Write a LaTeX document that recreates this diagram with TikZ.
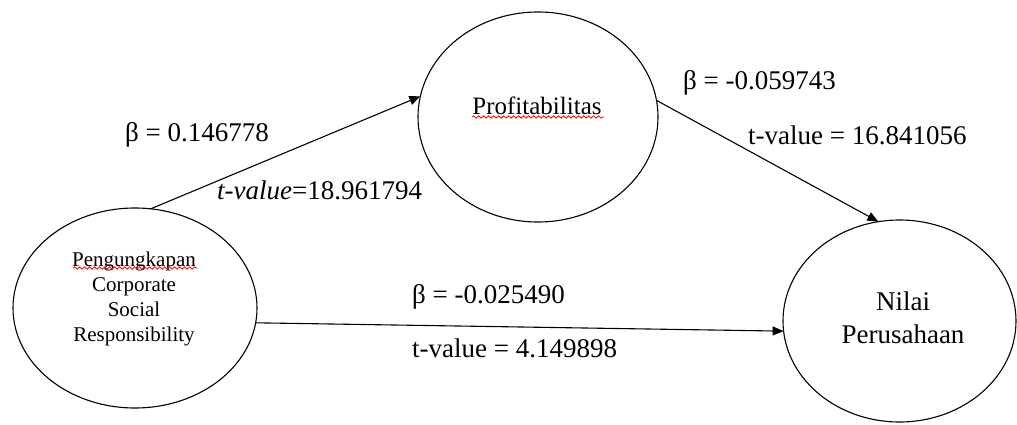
\documentclass[tikz,border=0pt]{standalone}
\usepackage{fontspec}
\setmainfont{Liberation Serif}
\usetikzlibrary{arrows.meta,decorations.pathmorphing,shapes.geometric}
\tikzset{
  construct/.style={draw, line width=1.1pt, ellipse, outer sep=0pt, inner sep=0pt},
  lbl/.style={inner sep=0pt, anchor=west, font=\fontsize{27}{32}\selectfont},
  relpath/.style={line width=1.1pt, -{Triangle[length=11pt,width=9pt]}},
  squiggle/.style={red, line width=0.8pt, decorate, decoration={snake, segment length=5pt, amplitude=1.2pt}}
}
\begin{document}
\begin{tikzpicture}[x=1pt,y=-1pt]
\useasboundingbox (0,0) rectangle (1017,425);
% constructs
\node[construct, minimum width=244pt, minimum height=200pt] (csr) at (135,308) {};
\node[construct, minimum width=240pt, minimum height=210pt] (prof) at (538,117) {};
\node[construct, minimum width=233pt, minimum height=202pt] (nilai) at (899.5,321) {};
% construct texts
\node[inner sep=0pt, align=center, font=\fontsize{21}{25}\selectfont] (csrtxt) at (134,299)
  {Pengungkapan\\Corporate\\Social\\Responsibility};
\node[inner sep=0pt, font=\fontsize{25}{30}\selectfont] (proftxt) at (537,106) {Profitabilitas};
\node[inner sep=0pt, align=center, font=\fontsize{27}{33}\selectfont] (niltxt) at (903,318) {Nilai\\Perusahaan};
% spelling squiggles
\coordinate (sqA1) at (73,268);
\coordinate (sqA2) at (197,268);
\coordinate (sqB1) at (472,117);
\coordinate (sqB2) at (604,117);
\draw[squiggle] (sqA1) -- (sqA2);
\draw[squiggle] (sqB1) -- (sqB2);
% paths
\draw[relpath] (csr.81.6) -- (prof.170.7);
\draw[relpath] (prof.8.9) -- (nilai.102.3);
\draw[relpath] (csr.-7.9) -- (nilai.185.9);
% labels
\node[lbl] (b1) at (125,135) {β = 0.146778};
\node[lbl] (t1) at (217,190) {\textit{t-value}=18.961794};
\node[lbl] (b2) at (683,83) {β = -0.059743};
\node[lbl] (t2) at (748,135) {t-value = 16.841056};
\node[lbl] (b3) at (412,297) {β = -0.025490};
\node[lbl] (t3) at (412,348) {t-value = 4.149898};
\end{tikzpicture}
\end{document}
